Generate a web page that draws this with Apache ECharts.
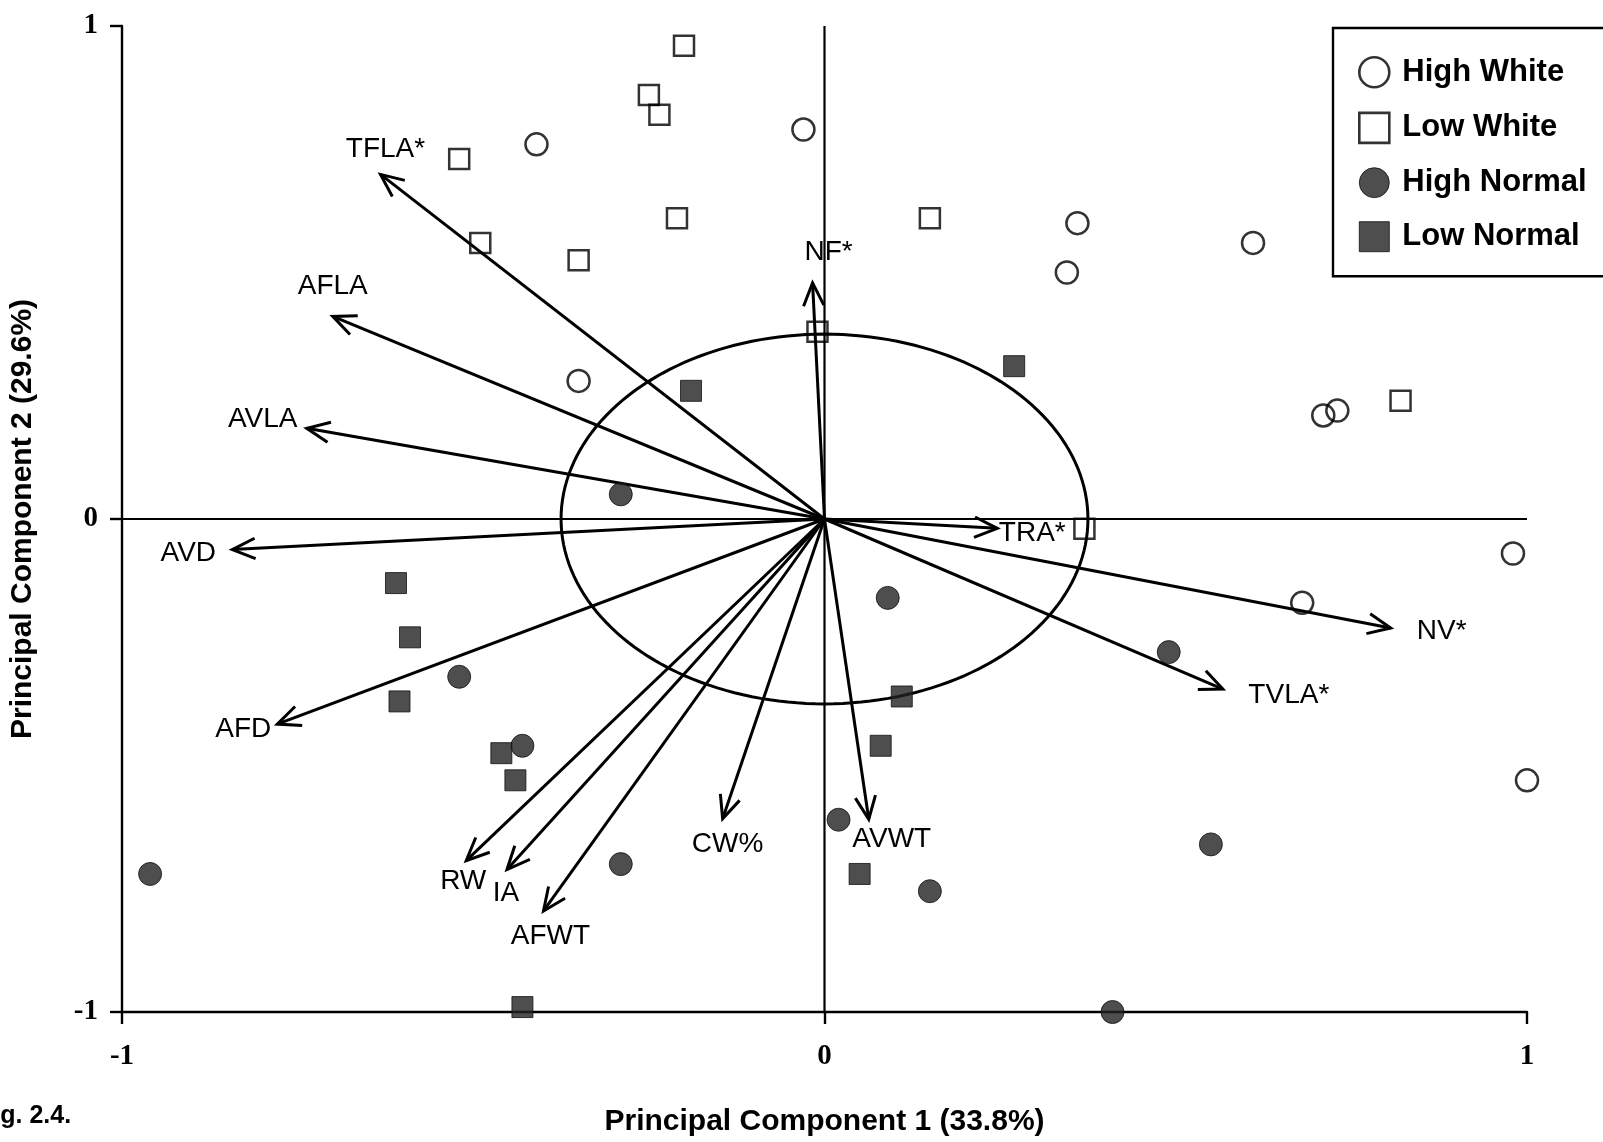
<!DOCTYPE html>
<html>
<head>
<meta charset="utf-8">
<script src="https://cdn.jsdelivr.net/npm/echarts@6/dist/echarts.min.js"></script>
<style>
  html, body { margin: 0; padding: 0; background: #fff; }
  #chart { width: 1603px; height: 1142px; }
</style>
</head>
<body>
<div id="chart"></div>
<script>
// PCA scores (PC1, PC2) for the four groups
const highWhite = [
  [-0.41, 0.76], [-0.03, 0.79], [0.36, 0.60], [0.345, 0.50], [0.61, 0.56],
  [-0.35, 0.28], [0.71, 0.21], [0.73, 0.22], [0.98, -0.07], [0.68, -0.17], [1.0, -0.53]
];
const lowWhite = [
  [-0.20, 0.96], [-0.25, 0.86], [-0.235, 0.82], [-0.52, 0.73], [-0.21, 0.61],
  [-0.49, 0.56], [-0.35, 0.525], [0.15, 0.61], [-0.01, 0.38], [0.82, 0.24], [0.37, -0.02]
];
const highNormal = [
  [-0.29, 0.05], [0.09, -0.16], [0.49, -0.27], [-0.52, -0.32], [-0.43, -0.46],
  [-0.96, -0.72], [-0.29, -0.70], [0.02, -0.61], [0.15, -0.755], [0.55, -0.66], [0.41, -1.0]
];
const lowNormal = [
  [-0.19, 0.26], [0.27, 0.31], [-0.61, -0.13], [-0.59, -0.24], [-0.605, -0.37],
  [-0.46, -0.475], [-0.44, -0.53], [0.11, -0.36], [0.08, -0.46], [0.05, -0.72], [-0.43, -0.99]
];

// Variable loadings drawn as arrows from the origin
const loadingNames = ['TFLA*', 'AFLA', 'AVLA', 'AVD', 'AFD', 'RW', 'IA', 'AFWT', 'CW%', 'AVWT', 'NF*', 'TRA*', 'TVLA*', 'NV*'];
const loadingPC1 = [-0.632, -0.700, -0.737, -0.843, -0.779, -0.510, -0.452, -0.400, -0.145, 0.063, -0.017, 0.246, 0.567, 0.806];
const loadingPC2 = [0.699, 0.411, 0.184, -0.062, -0.416, -0.693, -0.711, -0.795, -0.608, -0.609, 0.479, -0.019, -0.345, -0.221];

// Circle of equilibrium contribution
const circleRadius = 0.375;

// Axis ticks
const axisTicks = [-1, 0, 1];

// Label placement next to each arrow tip, in pixels
const labelOffsets = {
  'TFLA*': [5, -25], 'AFLA': [0, -30], 'AVLA': [-44, -9], 'AVD': [-44, 4], 'AFD': [-34, 5],
  'RW': [-3, 21], 'IA': [-1, 24], 'AFWT': [7, 25], 'CW%': [5, 26], 'AVWT': [23, 20],
  'NF*': [16, -31], 'TRA*': [35, 5], 'TVLA*': [66, 6], 'NV*': [51, 3]
};

const loadings = loadingNames.map((n, i) => [loadingPC1[i], loadingPC2[i]]);
const crossLines = [[axisTicks[0], 0, axisTicks[2], 0], [0, axisTicks[0], 0, axisTicks[2]]];

const chart = echarts.init(document.getElementById('chart'), null, { renderer: 'canvas' });

const SANS = '"Liberation Sans", Arial, sans-serif';
const SERIF = '"Liberation Serif", "Times New Roman", serif';
const openStyle = { color: 'rgba(255,255,255,0)', borderColor: '#000', borderWidth: 2.5 };
const filledStyle = { color: '#222', borderColor: '#111', borderWidth: 1 };

const axisCommon = {
  type: 'value',
  min: axisTicks[0],
  max: axisTicks[2],
  interval: 1,
  splitLine: { show: false },
  axisLine: { show: true, onZero: false, lineStyle: { color: '#000', width: 2.4 } },
  axisTick: { show: true, length: 12, lineStyle: { color: '#000', width: 2.4 } },
  axisLabel: { color: '#000', fontFamily: SERIF, fontWeight: 'bold', fontSize: 29 },
  nameLocation: 'middle',
  nameTextStyle: { color: '#000', fontFamily: SANS, fontWeight: 'bold', fontSize: 30 }
};

chart.setOption({
  animation: false,
  backgroundColor: '#fff',
  grid: { left: 120, right: 76, top: 26, bottom: 128, containLabel: false },
  xAxis: Object.assign({}, axisCommon, {
    name: 'Principal Component 1 (33.8%)',
    nameGap: 95,
    axisLabel: Object.assign({}, axisCommon.axisLabel, { margin: 30 })
  }),
  yAxis: Object.assign({}, axisCommon, {
    name: 'Principal Component 2 (29.6%)',
    nameGap: 84,
    axisLabel: Object.assign({}, axisCommon.axisLabel, { margin: 24 })
  }),
  legend: {
    orient: 'vertical',
    left: 1333,
    top: 28,
    padding: [28, 60, 24, 25],
    itemWidth: 30,
    itemHeight: 30,
    itemGap: 23,
    borderColor: '#000',
    borderWidth: 2.4,
    backgroundColor: '#fff',
    textStyle: { color: '#000', fontFamily: SANS, fontWeight: 'bold', fontSize: 31, padding: [0, 0, 0, 8] },
    data: [
      { name: 'High White', icon: 'circle', itemStyle: { color: '#fff', borderColor: '#000', borderWidth: 2.6 } },
      { name: 'Low White', icon: 'rect', itemStyle: { color: '#fff', borderColor: '#000', borderWidth: 2.6 } },
      { name: 'High Normal', icon: 'circle', itemStyle: filledStyle },
      { name: 'Low Normal', icon: 'rect', itemStyle: filledStyle }
    ]
  },
  graphic: [{
    type: 'text', x: -22, y: 1104,
    style: { text: 'Fig. 2.4.', fill: '#000', font: 'bold 25px ' + SANS }
  }],
  series: [
    {
      // zero lines through the origin
      type: 'custom',
      silent: true,
      z: 1,
      data: crossLines,
      renderItem: function (params, api) {
        const a = api.coord([api.value(0), api.value(1)]);
        const b = api.coord([api.value(2), api.value(3)]);
        return { type: 'line', shape: { x1: a[0], y1: a[1], x2: b[0], y2: b[1] }, style: { stroke: '#000', lineWidth: 2.2 } };
      }
    },
    {
      // equilibrium circle
      type: 'custom',
      silent: true,
      z: 2,
      data: [[0, 0, circleRadius]],
      renderItem: function (params, api) {
        const c = api.coord([api.value(0), api.value(1)]);
        const s = api.size([api.value(2), api.value(2)]);
        const pts = [];
        for (let i = 0; i <= 180; i++) {
          const t = i / 180 * Math.PI * 2;
          pts.push([c[0] + s[0] * Math.cos(t), c[1] + s[1] * Math.sin(t)]);
        }
        return { type: 'polyline', shape: { points: pts }, style: { stroke: '#000', lineWidth: 3, fill: null } };
      }
    },
    {
      // loading arrows with labels
      type: 'custom',
      silent: true,
      z: 3,
      data: loadings,
      renderItem: function (params, api) {
        const o = api.coord([0, 0]);
        const tip = api.coord([api.value(0), api.value(1)]);
        const ang = Math.atan2(tip[1] - o[1], tip[0] - o[0]);
        const L = 25, a = 24 * Math.PI / 180;
        const p1 = [tip[0] - L * Math.cos(ang - a), tip[1] - L * Math.sin(ang - a)];
        const p2 = [tip[0] - L * Math.cos(ang + a), tip[1] - L * Math.sin(ang + a)];
        const name = loadingNames[params.dataIndex];
        const off = labelOffsets[name];
        return {
          type: 'group',
          children: [
            { type: 'line', shape: { x1: o[0], y1: o[1], x2: tip[0], y2: tip[1] }, style: { stroke: '#000', lineWidth: 3 } },
            { type: 'polyline', shape: { points: [p1, tip, p2] }, style: { stroke: '#000', lineWidth: 3, fill: null } },
            { type: 'text', x: tip[0] + off[0], y: tip[1] + off[1],
              style: { text: name, fill: '#000', fontFamily: SANS, fontSize: 28, align: 'center', verticalAlign: 'middle' } }
          ]
        };
      }
    },
    { name: 'High White', type: 'scatter', symbol: 'circle', symbolSize: 22, z: 5, itemStyle: openStyle, data: highWhite },
    { name: 'Low White', type: 'scatter', symbol: 'rect', symbolSize: 20, z: 5, itemStyle: openStyle, data: lowWhite },
    { name: 'High Normal', type: 'scatter', symbol: 'circle', symbolSize: 23, z: 5, itemStyle: filledStyle, data: highNormal },
    { name: 'Low Normal', type: 'scatter', symbol: 'rect', symbolSize: 21, z: 5, itemStyle: filledStyle, data: lowNormal }
  ]
});
</script>
</body>
</html>
